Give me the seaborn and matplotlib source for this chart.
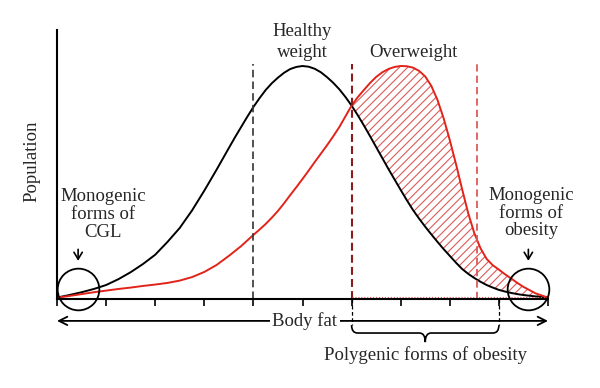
import matplotlib
matplotlib.use("Agg")
import matplotlib.pyplot as plt
from matplotlib.path import Path
from matplotlib.patches import PathPatch
import numpy as np
import pandas as pd
import seaborn as sns

# body fat positions (tick units) and population
body_fat = [0.0, 0.25, 0.5, 0.75, 1.0, 1.25, 1.5, 1.75, 2.0, 2.25,
            2.5, 2.75, 3.0, 3.25,
            3.5, 3.625, 3.75, 3.875, 4.0, 4.125, 4.25, 4.375, 4.5, 4.625,
            4.75, 4.875, 5.0, 5.125, 5.25, 5.375, 5.5, 5.625, 5.75, 5.875,
            6.0, 6.125, 6.25, 6.375, 6.5, 6.625, 6.75, 6.875, 7.0, 7.125,
            7.25, 7.375, 7.5, 7.625, 7.75, 7.875, 8.0, 8.125, 8.25, 8.375,
            8.5, 8.625, 8.75, 8.875, 9.0, 9.125, 9.25, 9.375, 9.5,
            9.75, 10.0]
healthy = [0.006, 0.017, 0.029, 0.043, 0.060, 0.085, 0.115, 0.150, 0.190, 0.245,
           0.305, 0.380, 0.465, 0.555,
           0.648, 0.694, 0.738, 0.782, 0.824, 0.862, 0.897, 0.926, 0.950, 0.971,
           0.987, 0.996, 1.000, 0.997, 0.988, 0.973, 0.952, 0.928, 0.900, 0.867,
           0.830, 0.789, 0.745, 0.699, 0.652, 0.605, 0.558, 0.513, 0.468, 0.424,
           0.382, 0.345, 0.310, 0.277, 0.245, 0.214, 0.185, 0.156, 0.129, 0.108,
           0.090, 0.074, 0.060, 0.049, 0.039, 0.032, 0.026, 0.021, 0.017,
           0.011, 0.006]
overweight = [0.006, 0.013, 0.021, 0.029, 0.036, 0.043, 0.049, 0.056, 0.062, 0.069,
              0.079, 0.094, 0.116, 0.146,
              0.185, 0.206, 0.227, 0.251, 0.275, 0.298, 0.322, 0.349, 0.378, 0.411,
              0.446, 0.480, 0.515, 0.551, 0.588, 0.624, 0.660, 0.698, 0.738, 0.784,
              0.830, 0.866, 0.897, 0.927, 0.953, 0.973, 0.987, 0.996, 1.000, 0.999,
              0.993, 0.979, 0.955, 0.914, 0.854, 0.775, 0.682, 0.580, 0.472, 0.368,
              0.282, 0.218, 0.172, 0.145, 0.126, 0.106, 0.088, 0.069, 0.052,
              0.024, 0.006]
ticks = [0, 1, 2, 3, 4, 5, 6, 7, 8, 9, 10]
healthy_cut = 4.0
overweight_cut = 6.0
obese_cut = 8.55
polygenic_end = 9.0
monogenic_left = 0.43
monogenic_right = 9.6

RED = "#e2231a"
DARK_RED = "#8e1b1b"
LIGHT_RED = "#dc5a58"

sns.set_style("white")
plt.rcParams["font.family"] = ["Liberation Serif", "DejaVu Serif"]
plt.rcParams["hatch.linewidth"] = 0.8

df = pd.DataFrame({"fat": body_fat, "healthy": healthy, "overweight": overweight})

fig = plt.figure(figsize=(6, 3.88), dpi=100)
ax = fig.add_axes([57 / 600, 89 / 388, 491 / 600, 269 / 388])

sns.lineplot(data=df, x="fat", y="healthy", color="black", lw=1.4, ax=ax, clip_on=False)
sns.lineplot(data=df, x="fat", y="overweight", color=RED, lw=1.4, ax=ax, clip_on=False)

h = np.array(healthy)
o = np.array(overweight)
ax.fill_between(body_fat, h, o, where=(o >= h) & (np.array(body_fat) >= overweight_cut),
                interpolate=True, facecolor="none", edgecolor=LIGHT_RED,
                hatch="////", lw=0)

# cut-off lines
top = 1.01
ax.plot([healthy_cut, healthy_cut], [0, top], color="#333333", lw=1.2, dashes=(4.5, 2.5))
ax.plot([overweight_cut, overweight_cut], [0, top], color=DARK_RED, lw=1.5, dashes=(3.8, 2))
ax.plot([obese_cut, obese_cut], [0, top], color=LIGHT_RED, lw=1.3, dashes=(4, 2.3))
ax.plot([overweight_cut, 10], [0.008, 0.008], color=LIGHT_RED, lw=0.8, ls=":")

ax.set_xlim(0, 10)
ax.set_ylim(0, 269 / 233)
ax.set_xticks(ticks)
ax.set_xticklabels([])
ax.set_yticks([])
ax.set_xlabel("")
ax.set_ylabel("")
ax.tick_params(axis="x", direction="out", length=5, width=1.2, color="black", bottom=True)
for s in ["top", "right"]:
    ax.spines[s].set_visible(False)
for s in ["left", "bottom"]:
    ax.spines[s].set_color("black")
    ax.spines[s].set_linewidth(1.5)

fs = 13.5
ax.text(-0.51, 0.592, "Population", rotation=90, ha="center", va="center", fontsize=fs)
ax.text(4.99, 1.150, "Healthy", ha="center", va="center", fontsize=fs, clip_on=False)
ax.text(4.99, 1.057, "weight", ha="center", va="center", fontsize=fs, clip_on=False)
ax.text(7.25, 1.057, "Overweight", ha="center", va="center", fontsize=fs)

for i, line in enumerate(["Monogenic", "forms of", "CGL"]):
    ax.text(0.94, 0.438 - i * 0.077, line, ha="center", va="center", fontsize=fs)
for i, line in enumerate(["Monogenic", "forms of", "obesity"]):
    ax.text(9.65, 0.446 - i * 0.077, line, ha="center", va="center", fontsize=fs,
            clip_on=False)

# circles round the monogenic tails
for cx in [monogenic_left, monogenic_right]:
    ax.plot([cx], [0.043], marker="o", ms=30, mfc="none", mec="black", mew=1.3,
            clip_on=False)
    ax.annotate("", xy=(cx, 0.152), xytext=(cx, 0.225),
                arrowprops=dict(arrowstyle="->,head_length=0.5,head_width=0.3",
                                color="black", lw=1.2),
                annotation_clip=False)

# body fat double arrow
ax.annotate("", xy=(0, -0.094), xytext=(10, -0.094),
            arrowprops=dict(arrowstyle="<->,head_length=0.6,head_width=0.3",
                            color="black", lw=1.3, shrinkA=0, shrinkB=0),
            annotation_clip=False)
ax.text(5.05, -0.094, "Body fat", ha="center", va="center", fontsize=fs,
        bbox=dict(facecolor="white", edgecolor="none", pad=2), clip_on=False)

# brace for polygenic forms
for xv in [overweight_cut, polygenic_end]:
    ax.plot([xv, xv], [0, -0.112], color="black", lw=0.9, dashes=(3, 2), clip_on=False)
mid = (overweight_cut + polygenic_end) / 2
y0, y1, y2 = -0.112, -0.146, -0.185
verts = [(overweight_cut, y0), (overweight_cut, y1), (overweight_cut + 0.12, y1),
         (mid - 0.12, y1), (mid, y1), (mid, y2),
         (mid, y1), (mid + 0.12, y1),
         (polygenic_end - 0.12, y1), (polygenic_end, y1), (polygenic_end, y0)]
codes = [Path.MOVETO, Path.CURVE3, Path.CURVE3,
         Path.LINETO, Path.CURVE3, Path.CURVE3,
         Path.CURVE3, Path.CURVE3,
         Path.LINETO, Path.CURVE3, Path.CURVE3]
ax.add_patch(PathPatch(Path(verts, codes), facecolor="none", edgecolor="black",
                       lw=1.2, clip_on=False))
ax.text(mid, -0.240, "Polygenic forms of obesity", ha="center", va="center",
        fontsize=fs, clip_on=False)

fig.savefig("out.png", dpi=100)
